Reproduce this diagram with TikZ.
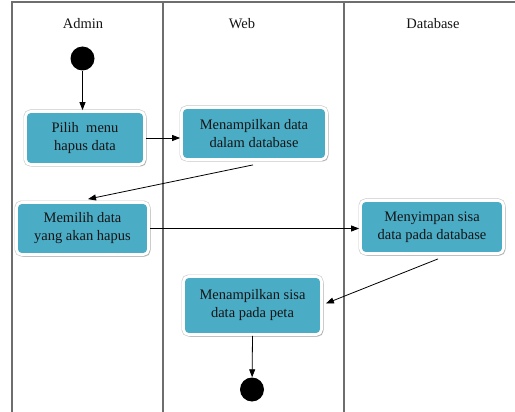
\documentclass[tikz,border=0pt]{standalone}
\usepackage{fontspec}
\setmainfont{Liberation Serif}
\usetikzlibrary{shadows,arrows.meta}
\definecolor{boxblue}{HTML}{4BACC6}
\definecolor{laneline}{HTML}{6E6E6E}
\definecolor{txt}{HTML}{141414}
\begin{document}
\begin{tikzpicture}[x=1pt,y=-1pt,
  lane/.style={draw=laneline,line width=1.4pt},
  hdr/.style={font=\fontsize{14.5}{18}\selectfont,text=txt},
  act/.style={rectangle,rounded corners=5pt,fill=boxblue,draw=white,line width=2.8pt,
    preaction={draw=black!22,line width=4pt},
    drop shadow={shadow xshift=1.8pt,shadow yshift=-2pt,opacity=0.35,fill=black!60},
    align=center,text=txt,font=\fontsize{14.5}{18}\selectfont,inner sep=0pt},
  dot/.style={circle,fill=black,minimum size=24pt,inner sep=0pt},
  flow/.style={draw=black,line width=0.8pt,-{Triangle[length=8pt,width=6pt]}}]
\useasboundingbox (0,0) rectangle (515,412);
% swimlanes
\draw[lane] (12,412) -- (12,2) -- (515,2);
\draw[lane] (163,2) -- (163,412);
\draw[lane] (344,2) -- (344,412);
\node[hdr] (hA) at (83,24) {Admin};
\node[hdr] (hW) at (242,24) {Web};
\node[hdr] (hD) at (433,24) {Database};
% nodes
\node[dot] (start) at (82.5,58.5) {};
\node[act,minimum width=119pt,minimum height=53pt] (b1) at (85,138) {Pilih\ \ menu\\hapus data};
\node[act,minimum width=145pt,minimum height=52pt] (b2) at (254,133.5) {Menampilkan data\\dalam database};
\node[act,minimum width=132pt,minimum height=52pt] (b3) at (82.5,228.5) {Memilih data\\yang akan hapus};
\node[act,minimum width=143pt,minimum height=53pt] (b4) at (432,227) {Menyimpan sisa\\data pada database};
\node[act,minimum width=138pt,minimum height=58pt] (b5) at (252.5,305.5) {Menampilkan sisa\\data pada peta};
\node[dot] (end) at (252,389.5) {};
% flows
\draw[flow] (start) -- (start |- b1.north);
\draw[flow] ([yshift=0pt]b1.east) -- (b1.east -| b2.west);
\draw[flow] ([xshift=-1pt,yshift=-4pt]b2.south) -- ([xshift=5.5pt,yshift=2pt]b3.north);
\draw[flow] (b3.east) -- (b3.east -| b4.west);
\draw[flow] ([xshift=6pt,yshift=-4pt]b4.south) -- ([xshift=3pt,yshift=2pt]b5.east);
\draw[flow] (b5.south) -- (end);
\end{tikzpicture}
\end{document}
